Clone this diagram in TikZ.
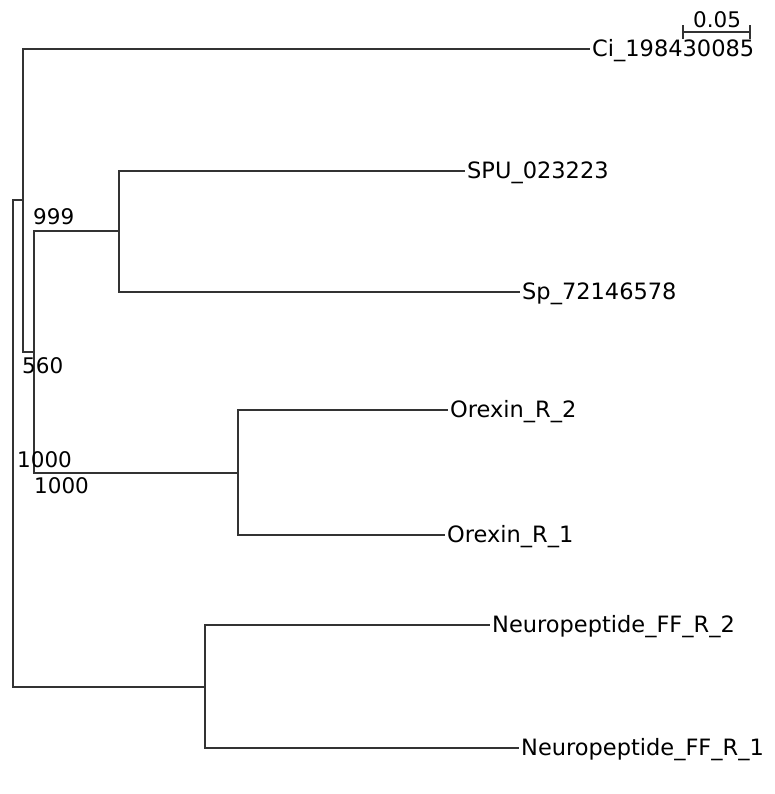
\documentclass[tikz,border=0pt]{standalone}
\usepackage{fontspec}
\setmainfont{DejaVu Sans}
\definecolor{edge}{HTML}{333333}
\begin{document}
\begin{tikzpicture}[x=1pt,y=-1pt,
  branch/.style={draw=edge,line width=1.5pt},
  leaflab/.style={anchor=west,inner sep=2pt,text height=15.7pt,text depth=0pt,font=\fontsize{22.5}{26}\selectfont},
  bootlab/.style={anchor=base west,inner sep=0pt,font=\fontsize{21.5}{25}\selectfont},
  scalelab/.style={anchor=base,inner sep=0pt,font=\fontsize{21.5}{25}\selectfont}]
\useasboundingbox (0,0) rectangle (774,794);
% internal nodes
\coordinate (root) at (13,443);
\coordinate (n1) at (23,200);
\coordinate (n2) at (34,352);
\coordinate (n3) at (119,231);
\coordinate (n4) at (238,473);
\coordinate (n5) at (205,687);
% leaves
\node[leaflab] (ci) at (590,49) {Ci\_198430085};
\node[leaflab] (spu) at (465,171) {SPU\_023223};
\node[leaflab] (sp) at (520,292) {Sp\_72146578};
\node[leaflab] (or2) at (448,410) {Orexin\_R\_2};
\node[leaflab] (or1) at (445,535) {Orexin\_R\_1};
\node[leaflab] (nff2) at (490,625) {Neuropeptide\_FF\_R\_2};
\node[leaflab] (nff1) at (519,748) {Neuropeptide\_FF\_R\_1};
% branches
\draw[branch] (root) |- (n1);
\draw[branch] (root) |- (n5);
\draw[branch] (n1) |- (ci.west);
\draw[branch] (n1) |- (n2);
\draw[branch] (n2) |- (n3);
\draw[branch] (n2) |- (n4);
\draw[branch] (n3) |- (spu.west);
\draw[branch] (n3) |- (sp.west);
\draw[branch] (n4) |- (or2.west);
\draw[branch] (n4) |- (or1.west);
\draw[branch] (n5) |- (nff2.west);
\draw[branch] (n5) |- (nff1.west);
% bootstrap values
\node[bootlab] (b999) at (33,225) {999};
\node[bootlab] (b560) at (22,373) {560};
\node[bootlab] (b1000a) at (17,467) {1000};
\node[bootlab] (b1000b) at (34,493) {1000};
% scale bar
\coordinate (sbl) at (683,32);
\coordinate (sbr) at (750,32);
\draw[branch,line width=1.3pt] (sbl) -- (sbr);
\draw[branch,line width=1.3pt] ([yshift=-7]sbl) -- ([yshift=7]sbl);
\draw[branch,line width=1.3pt] ([yshift=-7]sbr) -- ([yshift=7]sbr);
\node[scalelab] (sblab) at (717,28) {0.05};
\end{tikzpicture}
\end{document}
